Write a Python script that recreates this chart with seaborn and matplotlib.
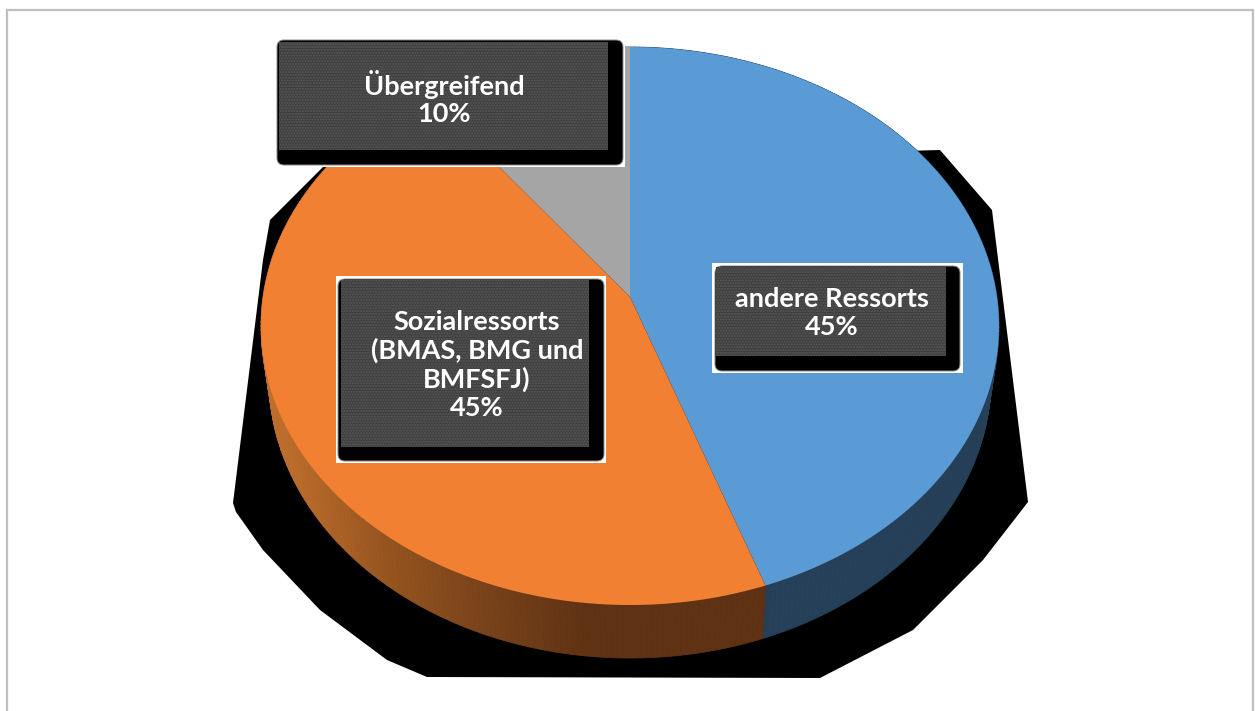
# Import libraries
import numpy as np
import seaborn as sns
import matplotlib.pyplot as plt
from matplotlib.patches import FancyBboxPatch, Rectangle

# Shares, clockwise from twelve o'clock
categories = ["andere Ressorts", "Sozialressorts\n(BMAS, BMG und\nBMFSFJ)", "Übergreifend"]
shares = [44.6, 45.1, 10.3]
colors = ["#5B9BD5", "#F28033", "#A5A5A5"]

sns.set_theme(style="white")
plt.rcParams["font.family"] = ["Lato", "DejaVu Sans"]
plt.rcParams["hatch.linewidth"] = 1.0

fig, ax = plt.subplots(figsize=(12.55, 7.11), dpi=100)
fig.subplots_adjust(0, 0, 1, 1)
ax.set_xlim(0, 1255)
ax.set_ylim(711, 0)
ax.axis("off")


# Tilted disc: the circle goes through a small perspective so the hub sits above the middle
def rim(angle, depth=0.0):
    u = np.cos(angle)
    v = np.sin(angle)
    w = 1 + 0.104 * v
    scale = 1 - 0.022 * depth
    return 630 + 367 * scale * u / w, 297 - 276 * v / w + 53 * depth


def orange_side(x):
    stops = np.array([[0xBE, 0x6E, 0x2C], [0x95, 0x54, 0x1F], [0x78, 0x42, 0x1A], [0x5F, 0x32, 0x13]]) / 255
    return [np.interp(x, [285, 387, 487, 587], stops[:, i]) for i in range(3)]


# Frame
ax.plot([7, 7], [711, 10], color="#BFBFBF", lw=1.6)
ax.plot([7, 1253], [10, 10], color="#BFBFBF", lw=1.6)
ax.plot([1253, 1253], [10, 711], color="#BFBFBF", lw=1.6)

# Black shadow behind the disc
shadow_x = [323, 270, 263, 233, 236, 263, 320, 387, 427, 820, 913, 983, 1028, 992, 940]
shadow_y = [167, 220, 260, 503, 512, 550, 610, 660, 677, 678, 630, 560, 502, 210, 150]
ax.fill(shadow_x, shadow_y, color="black", lw=0, zorder=1)

# Angles of the slices
edges = np.pi / 2 - 2 * np.pi * np.cumsum([0] + shares) / sum(shares)

# Side wall, cut in thin strips so the orange one can get darker to the right
for i in range(len(shares)):
    steps = np.linspace(edges[i], edges[i + 1], 200)
    for a, b in zip(steps[:-1], steps[1:]):
        x1, y1 = rim(a)
        x2, y2 = rim(b)
        x3, y3 = rim(b, 1)
        x4, y4 = rim(a, 1)
        if i == 0:
            c = "#254058"
        elif i == 1:
            c = orange_side((x1 + x2) / 2)
        else:
            c = "#555555"
        ax.fill([x1, x2, x3, x4], [y1, y2, y3, y4], color=c, lw=0.6, zorder=2)

# Top face
for i in range(len(shares)):
    steps = np.linspace(edges[i], edges[i + 1], 200)
    xs, ys = rim(steps)
    ax.fill(np.r_[630, xs], np.r_[297, ys], color=colors[i], lw=0, zorder=3)

# Labels: white backing, black rounded shadow, dotted dark box
labels = [f"{c}\n{round(s)}%" for c, s in zip(categories, shares)]
boxes = [
    (712, 263, 963, 373, 715, 266, 960, 371, 716, 267, 946, 356, 832, 313),
    (336, 276, 606, 463, 338, 279, 604, 461, 341, 280, 589, 447, 477, 365),
    (277, 40, 625, 167, 277, 40, 623, 165, 279, 42, 608, 150, 444, 98),
]
for label, b in zip(labels, boxes):
    ax.add_patch(Rectangle((b[0], b[1]), b[2] - b[0], b[3] - b[1], color="white", lw=0, zorder=4))
    ax.add_patch(FancyBboxPatch((b[4] + 6, b[5] + 6), b[6] - b[4] - 12, b[7] - b[5] - 12,
                                boxstyle="round,pad=6,rounding_size=7", fc="black", ec="#8A8A8A", lw=0.7, zorder=5))
    ax.add_patch(Rectangle((b[8], b[9]), b[10] - b[8], b[11] - b[9], fc="#404040", ec="#585858",
                           hatch="......", lw=0, zorder=6))
    ax.text(b[12], b[13], label, color="white", fontsize=19.5, fontweight="bold", ha="center",
            va="center", linespacing=1.17, zorder=7)

plt.savefig("out.png", dpi=100)
